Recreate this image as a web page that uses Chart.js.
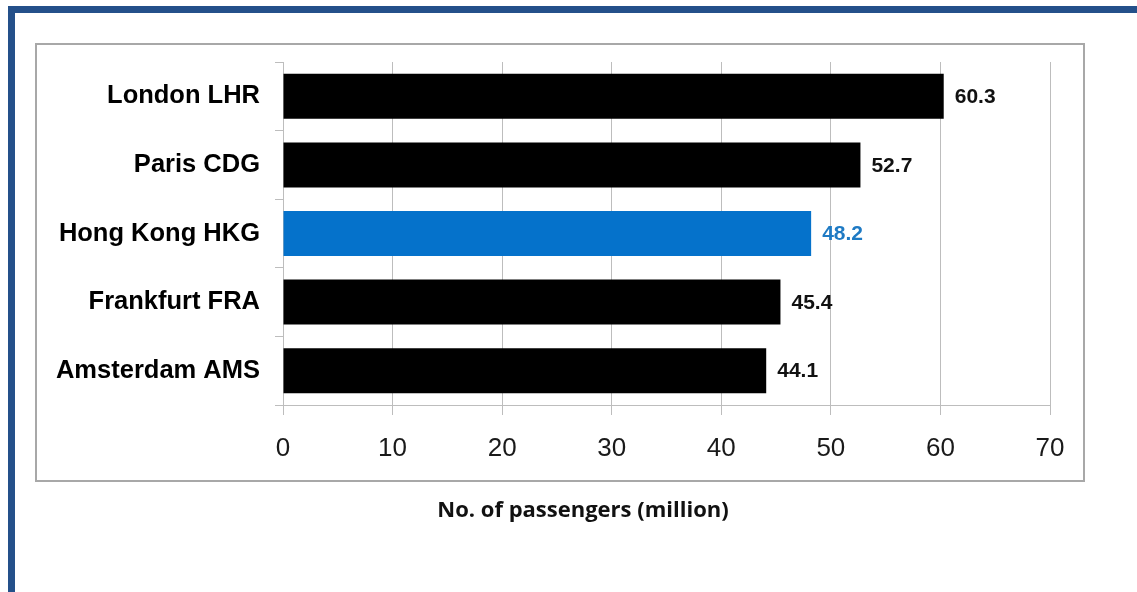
<!DOCTYPE html>
<html><head><meta charset="utf-8">
<script src="https://cdn.jsdelivr.net/npm/chart.js@4.4.1/dist/chart.umd.min.js"></script>
<style>
html,body{margin:0;padding:0;background:#fff;}
#wrap{position:relative;width:1137px;height:592px;overflow:hidden;background:#fff;}
#frameTop{position:absolute;left:8px;top:6px;width:1129px;height:7px;background:#24508A;}
#frameLeft{position:absolute;left:8px;top:6px;width:7px;height:586px;background:#24508A;}
#box{position:absolute;left:35px;top:43px;width:1050px;height:439px;border:2px solid #a8a8a8;box-sizing:border-box;}
#caption{position:absolute;left:0;width:1166px;top:493px;text-align:center;font-family:'Open Sans',sans-serif;font-weight:700;font-size:22px;color:#111;white-space:nowrap;}
#c{position:absolute;left:0;top:0;}
</style>
</head><body>
<div id="wrap">
  <div id="frameTop"></div>
  <div id="frameLeft"></div>
  <div id="box"></div>
  <canvas id="c" width="1137" height="592"></canvas>
  <div id="caption">No. of passengers (million)</div>
</div>
<script>
const categories = ['London LHR', 'Paris CDG', 'Hong Kong HKG', 'Frankfurt FRA', 'Amsterdam AMS'];
const passengers = [60.3, 52.7, 48.2, 45.4, 44.1];
const xTicks = [0, 10, 20, 30, 40, 50, 60, 70];
const highlighted = 'Hong Kong HKG';

const BLACK = '#000000';
const BLUE = '#0572CB';
const BLUE_TEXT = '#1E7AC4';

const valueLabels = {
  id: 'valueLabels',
  afterDatasetsDraw(chart) {
    const ctx = chart.ctx;
    const meta = chart.getDatasetMeta(0);
    ctx.save();
    ctx.font = "bold 21px 'Liberation Sans', Arial, sans-serif";
    ctx.textAlign = 'left';
    ctx.textBaseline = 'middle';
    meta.data.forEach((bar, i) => {
      ctx.fillStyle = categories[i] === highlighted ? BLUE_TEXT : '#111111';
      ctx.fillText(passengers[i].toFixed(1), bar.x + 11, bar.y + 1);
    });
    ctx.restore();
  }
};

new Chart(document.getElementById('c'), {
  type: 'bar',
  data: {
    labels: categories,
    datasets: [{
      data: passengers,
      backgroundColor: categories.map(c => c === highlighted ? BLUE : BLACK),
      borderWidth: 0,
      categoryPercentage: 1,
      barPercentage: 0.656
    }]
  },
  options: {
    indexAxis: 'y',
    responsive: false,
    animation: false,
    devicePixelRatio: 1,
    layout: { padding: { left: 35, top: 62, right: 87, bottom: 127 } },
    plugins: { legend: { display: false }, tooltip: { enabled: false } },
    scales: {
      x: {
        min: 0, max: 70,
        afterBuildTicks(scale) { scale.ticks = xTicks.map(v => ({ value: v })); },
        afterFit(scale) { scale.height = 60; },
        grid: { color: '#bdbdbd', lineWidth: 1, tickLength: 10, drawTicks: true },
        border: { color: '#bdbdbd', width: 1 },
        ticks: {
          color: '#1a1a1a',
          padding: 18,
          font: { family: "'Liberation Sans', Arial, sans-serif", size: 26 }
        }
      },
      y: {
        afterFit(scale) { scale.width = 248; },
        grid: { drawOnChartArea: false, drawTicks: true, tickLength: 8, color: '#bdbdbd', offset: true },
        border: { color: '#bdbdbd', width: 1 },
        ticks: {
          color: '#000000',
          padding: 15,
          font: { family: "'Liberation Sans', Arial, sans-serif", size: 25.5, weight: 'bold' }
        }
      }
    }
  },
  plugins: [valueLabels]
});
</script>
</body></html>
